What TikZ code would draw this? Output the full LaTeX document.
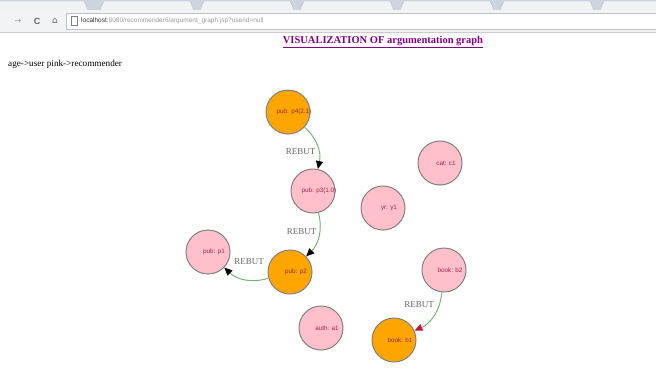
\documentclass[tikz,border=0pt]{standalone}
\usepackage{fontspec}
\setmainfont{Liberation Serif}
\setsansfont{Liberation Sans}
\newfontfamily\iconfont{DejaVu Sans}
\usetikzlibrary{arrows.meta,calc}

\definecolor{argpink}{RGB}{255,192,203}
\definecolor{argorange}{RGB}{255,165,0}
\definecolor{argedge}{RGB}{120,180,120}
\definecolor{argtext}{RGB}{150,40,70}
\definecolor{argred}{RGB}{190,30,50}
\definecolor{titlepurple}{RGB}{128,0,128}
\definecolor{tabbg}{RGB}{205,212,224}
\definecolor{barbg}{RGB}{242,243,245}

% 円の中の文字を少し右へ
\newcommand{\argtxt}[1]{\makebox[0pt]{\hspace*{12pt}#1}}

\begin{document}
\begin{tikzpicture}[x=1pt, y=-1pt,
    arg/.style={draw=black!50, line width=1pt, circle, minimum size=44pt, inner sep=0pt,
        font=\sffamily\fontsize{6.3}{7}\selectfont, text=argtext},
    user/.style={arg, fill=argpink},
    rec/.style={arg, fill=argorange},
    rebut/.style={draw=argedge, line width=1pt, bend left=30,
        -{Triangle[length=8pt,width=7pt,color=black]}},
    rebutlbl/.style={font=\fontsize{9}{10}\selectfont, text=black!60, inner sep=0pt},
    tab/.style={fill=white!70!tabbg, draw=black!25, line width=0.4pt}]
    \useasboundingbox (0,0) rectangle (656,370);

    % ブラウザ
    \fill[tabbg] (0,0) rectangle (656,10);
    \foreach \x in {-6,100,200,300,400,500,600} {
        \draw[tab] (\x,10) -- (\x+4,1) -- (\x+90,1) -- (\x+94,10);
    }
    \fill[barbg] (0,10) rectangle (656,32);
    \draw[black!20, line width=0.5pt] (0,32.5) -- (656,32.5);
    \draw[black!25, fill=white, line width=0.5pt] (66,13) rectangle (660,29);
    \node[text=black!40, font=\iconfont\fontsize{8}{9}\selectfont] (back) at (18,21) {→};
    \node[text=black!60, font=\sffamily\bfseries\fontsize{9}{10}\selectfont] (reload) at (37,21) {C};
    \node[text=black!60, font=\iconfont\fontsize{9}{10}\selectfont] (home) at (55,21) {⌂};
    \draw[black!50, line width=0.4pt] (71,16.5) rectangle (77,25.5);
    \node[anchor=west, inner sep=0pt, font=\sffamily\fontsize{6.5}{8}\selectfont] (url) at (81,21)
        {\textcolor{black!80}{localhost}\textcolor{black!40}{:8080/recommender6/argument\_graph.jsp?userid=null}};

    % タイトル
    \node[text=titlepurple, font=\bfseries\fontsize{10.5}{12}\selectfont] (title) at (383,42)
        {\underline{VISUALIZATION OF argumentation graph}};
    \node[anchor=west, inner sep=0pt, font=\fontsize{9.2}{10}\selectfont] (legend) at (8,64)
        {age-\textgreater user pink-\textgreater recommender};

    % ノードを描画
    \node[rec]  (p4) at (288,112) {\argtxt{pub: p4(2.1)}};
    \node[user] (p3) at (313,191) {\argtxt{pub: p3(1.0)}};
    \node[user] (c1) at (440,163) {\argtxt{cat: c1}};
    \node[user] (y1) at (383,208) {\argtxt{yr: y1}};
    \node[user] (p1) at (208,252) {\argtxt{pub: p1}};
    \node[rec]  (p2) at (290,272) {\argtxt{pub: p2}};
    \node[user] (b2) at (444,270) {\argtxt{book: b2}};
    \node[user] (a1) at (321,328) {\argtxt{auth: a1}};
    \node[rec]  (b1) at (394,340) {\argtxt{book: b1}};

    % エッジを描画
    \draw[rebut] (p4) to (p3);
    \draw[rebut] (p3) to (p2);
    \draw[rebut] (p2) to (p1);
    \draw[rebut, -{Triangle[length=8pt,width=7pt,color=argred]}] (b2) to (b1);
    \node[rebutlbl] (r1) at ($(p4)!0.5!(p3)$) {REBUT};
    \node[rebutlbl] (r2) at ($(p3)!0.5!(p2)$) {REBUT};
    \node[rebutlbl] (r3) at ($(p2)!0.5!(p1)$) {REBUT};
    \node[rebutlbl] (r4) at ($(b2)!0.5!(b1)$) {REBUT};
\end{tikzpicture}
\end{document}
